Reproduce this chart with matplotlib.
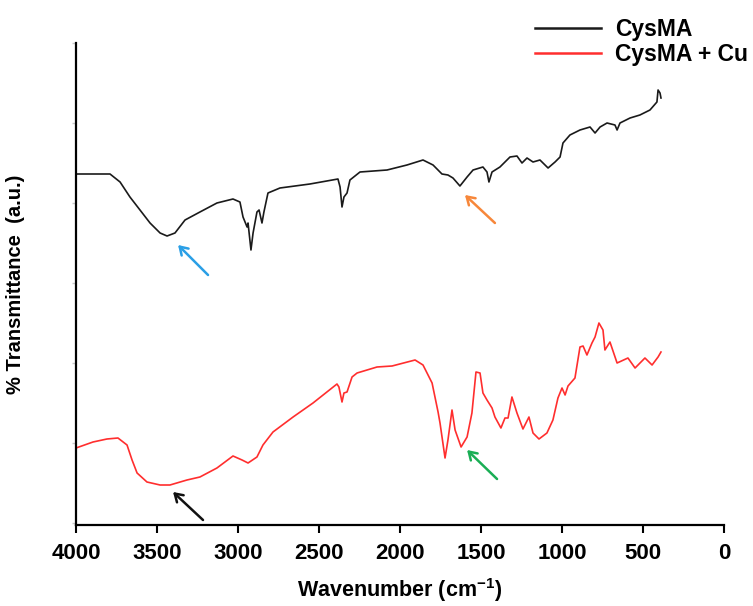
import matplotlib
matplotlib.use("Agg")
import matplotlib.pyplot as plt

plt.rcParams['font.family'] = ['Liberation Sans', 'DejaVu Sans']
plt.rcParams['font.weight'] = 'bold'
plt.rcParams['mathtext.fontset'] = 'custom'
plt.rcParams['mathtext.bf'] = 'Liberation Sans:bold'
plt.rcParams['mathtext.rm'] = 'Liberation Sans:bold'

# CysMA spectrum (wavenumber, transmittance a.u.)
cysma_wn = [4000, 3790, 3728, 3667, 3605, 3543, 3481, 3438, 3389, 3327, 3235, 3130,
            3031, 2988, 2969, 2944, 2938, 2920, 2907, 2883, 2870, 2852, 2840, 2815,
            2741, 2556, 2383, 2370, 2358, 2346, 2327, 2309, 2247, 2080, 1957, 1858,
            1796, 1741, 1704, 1673, 1630, 1586, 1549, 1488, 1463, 1451, 1432, 1383,
            1321, 1278, 1247, 1216, 1179, 1136, 1086, 1043, 1012, 994, 951, 889,
            827, 796, 765, 722, 673, 660, 642, 580, 519, 457, 414, 407, 395, 389]
cysma_t = [351, 351, 343, 328, 315, 302, 292, 289, 292, 305, 313, 322,
           326, 323, 308, 298, 302, 275, 292, 313, 315, 302, 313, 332,
           337, 341, 346, 338, 318, 328, 332, 345, 353, 355, 360, 365,
           360, 351, 350, 347, 339, 348, 355, 358, 353, 343, 353, 358,
           368, 369, 362, 367, 363, 365, 357, 363, 368, 382, 390, 395,
           398, 392, 398, 402, 400, 395, 402, 407, 410, 415, 423, 435, 432, 427]

# CysMA + Cu spectrum
cu_wn = [4000, 3895, 3809, 3741, 3685, 3654, 3623, 3562, 3481, 3420, 3315, 3235,
         3130, 3031, 2975, 2938, 2883, 2846, 2784, 2660, 2537, 2389, 2377, 2358,
         2346, 2327, 2296, 2265, 2142, 2049, 1907, 1858, 1802, 1765, 1753, 1722,
         1704, 1679, 1660, 1623, 1586, 1556, 1531, 1506, 1488, 1463, 1432, 1414,
         1377, 1352, 1333, 1309, 1278, 1241, 1204, 1179, 1142, 1093, 1056, 1025,
         1000, 981, 963, 920, 889, 870, 846, 815, 796, 772, 747, 735, 704, 660,
         593, 549, 488, 444, 407, 389]
cu_t = [77, 83, 86, 87, 80, 65, 52, 43, 40, 40, 45, 48,
        57, 69, 65, 62, 68, 80, 93, 108, 122, 141, 138, 123,
        132, 133, 148, 152, 158, 159, 165, 160, 142, 113, 102, 67,
        85, 115, 95, 78, 88, 112, 153, 152, 132, 125, 117, 108,
        97, 107, 107, 128, 112, 96, 108, 92, 86, 92, 105, 127,
        137, 130, 139, 147, 178, 179, 170, 182, 188, 202, 195, 175, 183, 162,
        167, 157, 167, 160, 168, 173]

x_ticks = [4000, 3500, 3000, 2500, 2000, 1500, 1000, 500, 0]
series_labels = ['CysMA', 'CysMA + Cu']

# arrows: (tail_wn, tail_t, head_wn, head_t, color)
arrows = [
    (3185, 250, 3370, 280, '#2A9FE6'),
    (1414, 302, 1599, 330, '#F7873A'),
    (3216, 5, 3401, 33, '#111111'),
    (1401, 46, 1586, 75, '#1AAE55'),
]

fig = plt.figure(figsize=(7.53, 6.06), dpi=100)
ax = fig.add_axes([76 / 753, 1 - 525 / 606, 648 / 753, 482 / 606])

l1, = ax.plot(cysma_wn, cysma_t, color='#1a1a1a', lw=1.2)
l2, = ax.plot(cu_wn, cu_t, color='#FF2E2E', lw=1.2)

for tx, ty, hx, hy, c in arrows:
    ax.annotate('', xy=(hx, hy), xytext=(tx, ty),
                arrowprops=dict(arrowstyle='->,head_length=0.55,head_width=0.35',
                                color=c, lw=1.8, shrinkA=0, shrinkB=0))

ax.set_xlim(4000, 0)
ax.set_ylim(0, 482)
ax.set_xticks(x_ticks)
ax.set_xticklabels([str(v) for v in x_ticks], fontsize=16, fontweight='bold')
ax.set_yticks(list(range(2, 483, 80)))
ax.set_yticklabels([])
ax.tick_params(axis='y', length=3, width=1, color='#c8c8c8', direction='out')
ax.tick_params(axis='x', length=6, width=1.5, direction='out', pad=7)

for s in ['top', 'right']:
    ax.spines[s].set_visible(False)
for s in ['left', 'bottom']:
    ax.spines[s].set_linewidth(1.6)

ax.set_xlabel(r'Wavenumber (cm$^{\mathbf{-1}}$)', fontsize=15.5, fontweight='bold', labelpad=9)
ax.set_ylabel('% Transmittance  (a.u.)', fontsize=14.5, fontweight='bold', labelpad=30)

leg = ax.legend([l1, l2], series_labels, loc='upper left',
                bbox_to_anchor=(535 / 753, 1 - 18 / 606), bbox_transform=fig.transFigure,
                frameon=False, fontsize=16.5, handlelength=2.9, handletextpad=0.6,
                labelspacing=0.1, borderpad=0, borderaxespad=0)
for t in leg.get_texts():
    t.set_fontweight('bold')
for h in leg.get_lines():
    h.set_linewidth(1.8)

fig.savefig('out.png', dpi=100)
